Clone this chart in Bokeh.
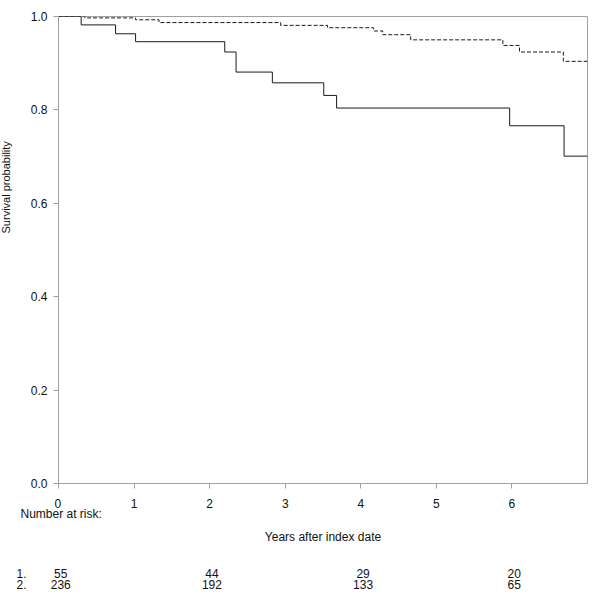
from bokeh.plotting import figure
from bokeh.models import Range1d, FixedTicker, NumeralTickFormatter
from bokeh.layouts import column, row
from bokeh.core.properties import value
from bokeh.embed import file_html
from bokeh.resources import INLINE

# Group 1 (solid) Kaplan-Meier steps
t1 = [0, 0.30, 0.755, 1.02, 2.20, 2.35, 2.83, 3.51, 3.68, 5.97, 6.69, 7.0]
s1 = [1.0, 0.982, 0.963, 0.946, 0.924, 0.881, 0.858, 0.831, 0.804, 0.766, 0.701, 0.701]

# Group 2 (dashed)
t2 = [0, 0.35, 1.02, 1.33, 2.94, 3.56, 4.17, 4.29, 4.66, 5.88, 6.10, 6.68, 7.0]
s2 = [1.0, 0.997, 0.993, 0.987, 0.981, 0.976, 0.969, 0.961, 0.950, 0.938, 0.924, 0.904, 0.904]

x_ticks = [0, 1, 2, 3, 4, 5, 6]
y_ticks = [0.0, 0.2, 0.4, 0.6, 0.8, 1.0]

risk_times = [0, 2, 4, 6]
risk_1 = ["55", "44", "29", "20"]
risk_2 = ["236", "192", "133", "65"]
group_labels = ["1.", "2."]

FONT = "Liberation Sans"
GREY = "#a0a0a0"
TXT = "#111111"

W_LEFT = 20
W_MAIN = 572
H_MAIN = 555
H_BOT = 36
X0, X1 = 0.0, 7.0
BORDER_L, BORDER_R = 38, 5

# ---------- main plot ----------
p = figure(width=W_MAIN, height=H_MAIN, output_backend="svg", toolbar_location=None,
           x_range=Range1d(X0, X1), y_range=Range1d(0, 1),
           min_border_left=BORDER_L, min_border_right=BORDER_R, min_border_top=16,
           min_border_bottom=72)
p.xgrid.visible = False
p.ygrid.visible = False
p.outline_line_color = GREY
p.outline_line_width = 1
p.background_fill_color = "white"
p.border_fill_color = "white"

for ax in (p.xaxis[0], p.yaxis[0]):
    ax.axis_line_color = GREY
    ax.major_tick_line_color = GREY
    ax.minor_tick_line_color = None
    ax.major_tick_in = 0
    ax.major_tick_out = 5
    ax.major_label_text_font = FONT
    ax.major_label_text_font_size = "12px"
    ax.major_label_text_color = TXT

xa = p.xaxis[0]
xa.ticker = FixedTicker(ticks=x_ticks)
xa.major_label_overrides = {0: "0\u00a0\u00a0\nNumber at risk:"}
xa.major_label_text_line_height = 0.78
xa.major_label_standoff = 8
xa.axis_label = "Years after index date"
xa.axis_label_text_font = FONT
xa.axis_label_text_font_size = "12px"
xa.axis_label_text_font_style = "normal"
xa.axis_label_text_color = TXT
xa.axis_label_standoff = 6

ya = p.yaxis[0]
ya.ticker = FixedTicker(ticks=y_ticks)
ya.formatter = NumeralTickFormatter(format="0.0")
ya.major_label_standoff = 6

p.step(t1, s1, mode="after", line_color="#1a1a1a", line_width=1)
p.step(t2, s2, mode="after", line_color="#1a1a1a", line_width=1, line_dash="4 2")

# ---------- left strip with y-axis title ----------
left = figure(width=W_LEFT, height=H_MAIN, output_backend="svg", toolbar_location=None,
              x_range=Range1d(0, W_LEFT), y_range=Range1d(H_MAIN, 0),
              x_axis_type=None, y_axis_type=None, min_border=0)
left.outline_line_color = None
left.xgrid.visible = False
left.ygrid.visible = False
left.text(x=[5.5], y=[203], text=["Survival probability"], angle=1.5708,
          text_font=value(FONT), text_font_size="11px", text_color=TXT,
          text_align="center", text_baseline="middle")

# ---------- bottom strip: numbers at risk ----------
px_per_unit = (W_MAIN - BORDER_L - BORDER_R) / (X1 - X0)
frame_left = W_LEFT + BORDER_L
W_BOT = W_LEFT + W_MAIN
bot = figure(width=W_BOT, height=H_BOT, output_backend="svg", toolbar_location=None,
             x_range=Range1d(X0 - frame_left / px_per_unit, X0 + (W_BOT - frame_left) / px_per_unit),
             y_range=Range1d(H_BOT, 0),
             x_axis_type=None, y_axis_type=None, min_border=0)
bot.outline_line_color = None
bot.xgrid.visible = False
bot.ygrid.visible = False
row_y = [17.5, 28.5]
lab_x = X0 - (frame_left - 16) / px_per_unit
bot.text(x=[lab_x, lab_x], y=row_y, text=group_labels, text_font=value(FONT),
         text_font_size="12px", text_color=TXT, text_align="left", text_baseline="middle")
for vals, yy in zip([risk_1, risk_2], row_y):
    bot.text(x=[t + 0.03 for t in risk_times], y=[yy] * len(vals), text=vals,
             text_font=value(FONT), text_font_size="12px", text_color=TXT,
             text_align="center", text_baseline="middle")

layout = column(row(left, p, spacing=0), bot, spacing=0)
open("out.html", "w").write(file_html(layout, INLINE))
